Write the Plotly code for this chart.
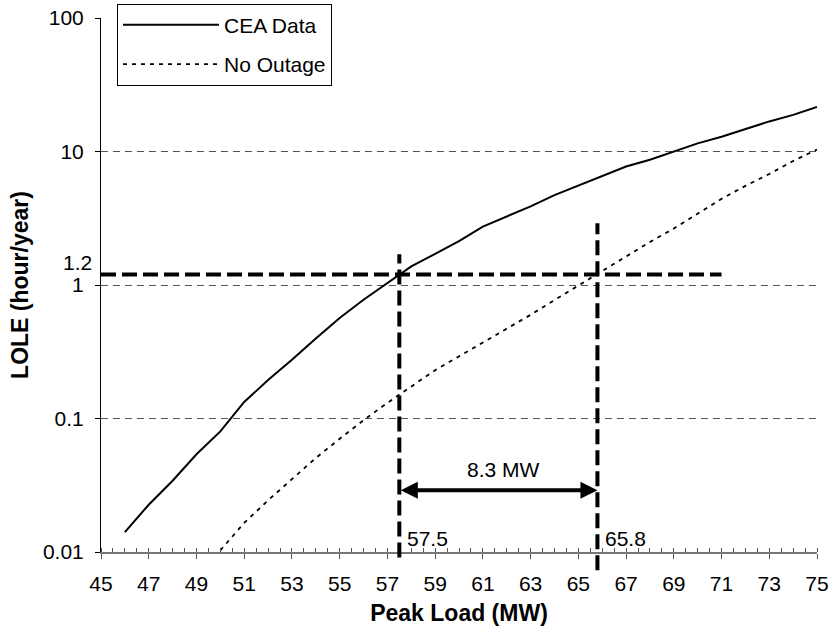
import math
import plotly.graph_objects as go

# Peak load (MW) and loss-of-load expectation (hour/year)
load_cea = list(range(46, 76))
lole_cea = [0.0141, 0.0226, 0.0342, 0.054, 0.080, 0.133, 0.194, 0.275, 0.398, 0.566,
            0.775, 1.03, 1.38, 1.71, 2.13, 2.74, 3.26, 3.88, 4.71, 5.53,
            6.55, 7.72, 8.67, 10.0, 11.5, 12.9, 14.8, 16.8, 18.8, 21.6]

load_no_outage = list(range(50, 76))
lole_no_outage = [0.0103, 0.0165, 0.0244, 0.0353, 0.0506, 0.0705, 0.097, 0.131, 0.174, 0.23,
                  0.292, 0.371, 0.47, 0.598, 0.771, 0.99, 1.27, 1.63, 2.10, 2.65,
                  3.41, 4.42, 5.53, 6.79, 8.49, 10.35]

x_ticks = list(range(45, 76, 2))
y_ticks = [0.01, 0.1, 1, 10, 100]
y_tick_text = ["0.01", "0.1", "1", "10", "100"]

# LOLE criterion and the peak loads where each curve reaches it
lole_target = 1.2
load_cea_at_target = 57.5
load_no_outage_at_target = 65.8
target_line_end = 71
gap_label = "8.3 MW"

FONT = "Liberation Sans, Arial, sans-serif"
FS = 21
Y_RANGE = (-2, 2)


def y_paper(v):
    """Position of a LOLE value on the log axis, as a fraction of the plot height."""
    return (math.log10(v) - Y_RANGE[0]) / (Y_RANGE[1] - Y_RANGE[0])


fig = go.Figure()
fig.add_trace(go.Scatter(
    x=load_cea, y=lole_cea, mode="lines", name="CEA Data",
    line=dict(color="black", width=2), legendgroup="a",
))
fig.add_trace(go.Scatter(
    x=load_no_outage, y=lole_no_outage, mode="lines", name="No Outage",
    line=dict(color="black", width=1.8, dash="4px,5px"), legendgroup="b",
))

heavy = dict(color="black", width=4, dash="15px,6px")
shapes = [
    # horizontal criterion line
    dict(type="line", xref="x", yref="y", x0=x_ticks[0], x1=target_line_end,
         y0=lole_target, y1=lole_target, line=heavy),
    # vertical lines at the two peak loads
    dict(type="line", xref="x", yref="paper",
         x0=load_cea_at_target, x1=load_cea_at_target,
         y0=y_paper(0.0091), y1=y_paper(1.7), line=heavy),
    dict(type="line", xref="x", yref="paper",
         x0=load_no_outage_at_target, x1=load_no_outage_at_target,
         y0=y_paper(0.0073), y1=y_paper(2.9), line=heavy),
]

arrow_y = math.log10(0.029)
annotations = [
    # double-headed arrow spanning the capacity gap
    dict(x=load_no_outage_at_target, y=arrow_y, ax=load_cea_at_target, ay=arrow_y,
         xref="x", yref="y", axref="x", ayref="y", text="",
         showarrow=True, arrowhead=2, startarrowhead=2, arrowside="end+start",
         arrowsize=0.85, startarrowsize=0.85, arrowwidth=4, arrowcolor="black"),
    dict(x=(load_cea_at_target + load_no_outage_at_target) / 2, y=arrow_y,
         xref="x", yref="y", text=gap_label, showarrow=False,
         xshift=5, yshift=21, font=dict(family=FONT, size=FS, color="black")),
    dict(x=load_cea_at_target, y=Y_RANGE[0], xref="x", yref="y",
         text=f"{load_cea_at_target}", showarrow=False, xanchor="left", yanchor="bottom",
         xshift=6, yshift=0, font=dict(family=FONT, size=FS, color="black")),
    dict(x=load_no_outage_at_target, y=Y_RANGE[0], xref="x", yref="y",
         text=f"{load_no_outage_at_target}", showarrow=False, xanchor="left", yanchor="bottom",
         xshift=6, yshift=0, font=dict(family=FONT, size=FS, color="black")),
    dict(x=x_ticks[0], y=math.log10(lole_target), xref="x", yref="y",
         text=f"{lole_target}", showarrow=False, xanchor="right", yanchor="middle",
         xshift=-7, yshift=12, font=dict(family=FONT, size=FS, color="black")),
]

fig.update_layout(
    width=834, height=633,
    margin=dict(l=101, r=17, t=18, b=81, autoexpand=False),
    paper_bgcolor="white", plot_bgcolor="white",
    font=dict(family=FONT, size=FS, color="black"),
    shapes=shapes, annotations=annotations,
    showlegend=True,
    legend=dict(
        x=0.0223, y=1.027, xanchor="left", yanchor="top",
        bgcolor="white", bordercolor="black", borderwidth=1,
        font=dict(family=FONT, size=FS, color="black"),
        itemwidth=96, tracegroupgap=9,
    ),
)

fig.update_xaxes(
    range=[45, 75], tickvals=x_ticks, ticks="outside", ticklen=5, tickwidth=1,
    tickcolor="#555", showline=True, linecolor="#777", linewidth=1.5,
    showgrid=False, zeroline=False, ticklabelstandoff=7,
    tickfont=dict(family=FONT, size=FS, color="black"),
    minor=dict(dtick=0.5, tick0=45, ticks="inside", ticklen=4, tickcolor="#555", showgrid=False),
    title=dict(text="<b>Peak Load (MW)</b>", font=dict(family=FONT, size=23, color="black"),
               standoff=11),
)
fig.update_yaxes(
    type="log", range=list(Y_RANGE), tickvals=y_ticks, ticktext=y_tick_text,
    ticks="outside", ticklen=5, tickcolor="black", showline=True, linecolor="black",
    linewidth=1, showgrid=True, gridcolor="#555", griddash="7px,5px", gridwidth=1,
    zeroline=False, ticklabelstandoff=7,
    tickfont=dict(family=FONT, size=FS, color="black"),
    title=dict(text="<b>LOLE (hour/year)</b>", font=dict(family=FONT, size=23, color="black"),
               standoff=7),
)

fig.write_html("out.html")
